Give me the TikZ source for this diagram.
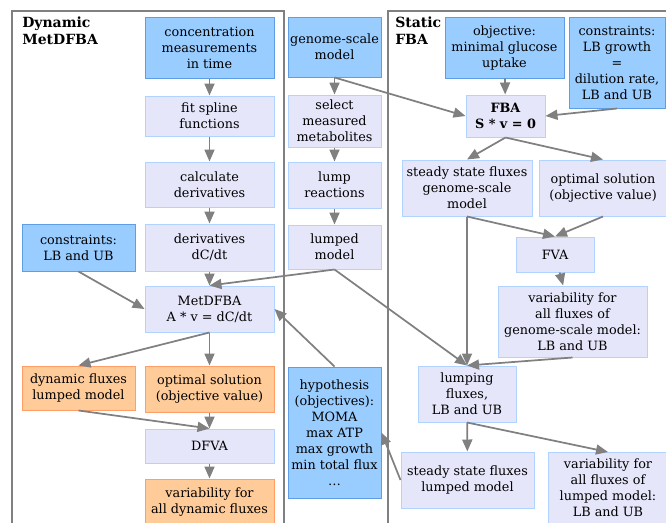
\documentclass[tikz,border=0pt]{standalone}
\usepackage{fontspec}
\setmainfont{DejaVu Serif}
\usetikzlibrary{arrows.meta}
\definecolor{inblue}{HTML}{99CCFF}
\definecolor{inedge}{HTML}{5E9EE6}
\definecolor{lav}{HTML}{E6E6FA}
\definecolor{lavedge}{HTML}{B0D4FF}
\definecolor{orng}{HTML}{FFCC99}
\definecolor{orngedge}{HTML}{FF9E66}
\definecolor{wire}{HTML}{808080}
\begin{document}
\begin{tikzpicture}[x=0.75pt,y=-0.75pt,
	box/.style={draw,line width=0.75pt,align=center,inner sep=0pt,font=\fontsize{9.6}{12}\selectfont},
	given/.style={box,fill=inblue,draw=inedge},
	proc/.style={box,fill=lav,draw=lavedge},
	result/.style={box,fill=orng,draw=orngedge},
	flow/.style={draw=wire,line width=1.3pt,-{Triangle[length=9pt,width=7.5pt]}},
	cluster/.style={draw=wire,line width=1.5pt},
	title/.style={anchor=north west,align=left,inner sep=0pt,font=\fontsize{10.5}{12.5}\selectfont\bfseries}]
	\useasboundingbox (0,0) rectangle (666,522);
	\clip (0,0) rectangle (666,522);
	% clusters
	\draw[cluster](12, 11) rectangle (284, 540);
	\draw[cluster](388, 11) rectangle (690, 540);
	\node[title] (dyntitle) at (22, 17) {Dynamic\\MetDFBA};
	\node[title] (stattitle) at (395, 17) {Static\\FBA};
	% dynamic column
	\node[given, minimum width=96.75pt, minimum height=45.75pt] (conc) at (209.5, 47.5) {concentration\\measurements\\in time};
	\node[proc, minimum width=96.75pt, minimum height=30pt] (spline) at (209.5, 116) {fit spline\\functions};
	\node[proc, minimum width=96.75pt, minimum height=33.75pt] (calc) at (209.5, 184.5) {calculate\\derivatives};
	\node[proc, minimum width=96.75pt, minimum height=35.25pt] (deriv) at (209.5, 247.5) {derivatives\\dC/dt};
	\node[given, minimum width=84.75pt, minimum height=35.25pt] (consL) at (78.5, 247.5) {constraints:\\LB and UB};
	\node[proc, minimum width=96.75pt, minimum height=34.5pt] (metdfba) at (209.5, 309) {MetDFBA\\A * v = dC/dt};
	\node[result, minimum width=84.75pt, minimum height=33pt] (dynflux) at (78.5, 388) {dynamic fluxes\\lumped model};
	\node[result, minimum width=96.75pt, minimum height=34.5pt] (optL) at (209.5, 389) {optimal solution\\(objective value)};
	\node[proc, minimum width=96.75pt, minimum height=25.5pt] (dfva) at (209.5, 446) {DFVA};
	\node[result, minimum width=96.75pt, minimum height=34.5pt] (varDyn) at (209.5, 502) {variability for\\all dynamic fluxes};
	% model column
	\node[given, minimum width=69.75pt, minimum height=45pt] (genome) at (334.5, 47) {genome-scale\\model};
	\node[proc, minimum width=69.75pt, minimum height=39pt] (select) at (334.5, 121) {select\\measured\\metabolites};
	\node[proc, minimum width=69.75pt, minimum height=34.5pt] (lump) at (334.5, 185) {lump\\reactions};
	\node[proc, minimum width=69.75pt, minimum height=33pt] (lumped) at (334.5, 247) {lumped\\model};
	\node[given, minimum width=69.75pt, minimum height=98.25pt] (hyp) at (334.5, 432.5) {hypothesis\\(objectives):\\MOMA\\max ATP\\max growth\\min total flux\\\dots};
	% static column
	\node[given, minimum width=89.25pt, minimum height=45.75pt] (objective) at (504.5, 47.5) {objective:\\minimal glucose\\uptake};
	\node[given, minimum width=72pt, minimum height=68.25pt] (consR) at (617, 62.5) {constraints:\\LB growth\\=\\dilution rate,\\LB and UB};
	\node[proc, minimum width=59.25pt, minimum height=31.5pt, font=\fontsize{9.6}{12}\selectfont\bfseries] (fba) at (505.5, 116) {FBA\\S * v = 0};
	\node[proc, minimum width=97.5pt, minimum height=42pt] (ssG) at (467, 188) {steady state fluxes\\genome-scale\\model};
	\node[proc, minimum width=96pt, minimum height=42pt] (optR) at (603, 188) {optimal solution\\(objective value)};
	\node[proc, minimum width=58.5pt, minimum height=26.25pt] (fva) at (555, 254.5) {FVA};
	\node[proc, minimum width=111.75pt, minimum height=53.25pt] (varG) at (572.5, 321.5) {variability for\\all fluxes of\\genome-scale model:\\LB and UB};
	\node[proc, minimum width=73.5pt, minimum height=42pt] (lumping) at (467, 394) {lumping\\fluxes,\\LB and UB};
	\node[proc, minimum width=99.75pt, minimum height=42pt] (ssL) at (467.5, 480) {steady state fluxes\\lumped model};
	\node[proc, minimum width=90pt, minimum height=53.25pt] (varL) at (608, 488) {variability for\\all fluxes of\\lumped model:\\LB and UB};
	% dynamic flow
	\draw[flow] (conc) -- (spline);
	\draw[flow] (spline) -- (calc);
	\draw[flow] (calc) -- (deriv);
	\draw[flow] (deriv) -- (metdfba);
	\draw[flow] (consL.south) -- (metdfba.west);
	\draw[flow] (lumped.south) -- (metdfba.north);
	\draw[flow] (hyp.north) -- (metdfba.east);
	\draw[flow] (metdfba.south) -- (dynflux.north);
	\draw[flow] (metdfba) -- (optL);
	\draw[flow] (dynflux.south) -- (dfva.north);
	\draw[flow] (optL) -- (dfva);
	\draw[flow] (dfva) -- (varDyn);
	% model flow
	\draw[flow] (genome) -- (select);
	\draw[flow] (select) -- (lump);
	\draw[flow] (lump) -- (lumped);
	\draw[flow] (genome.south) -- (fba.west);
	\draw[flow] (lumped.south) -- (lumping.north);
	\draw[flow] (ssL.west) -- (hyp.east);
	% static flow
	\draw[flow] (objective) -- (fba);
	\draw[flow] (consR.south) -- (fba.east);
	\draw[flow] (fba.south) -- (ssG.north);
	\draw[flow] (fba.south) -- (optR.north);
	\draw[flow] (ssG.south) -- (fva.north);
	\draw[flow] (optR.south) -- (fva.north);
	\draw[flow] (ssG.south) -- (lumping.north);
	\draw[flow] (fva) -- (varG);
	\draw[flow] (varG.south) -- (lumping.north);
	\draw[flow] (lumping) -- (ssL);
	\draw[flow] (lumping.south) -- (varL.north);
\end{tikzpicture}
\end{document}
